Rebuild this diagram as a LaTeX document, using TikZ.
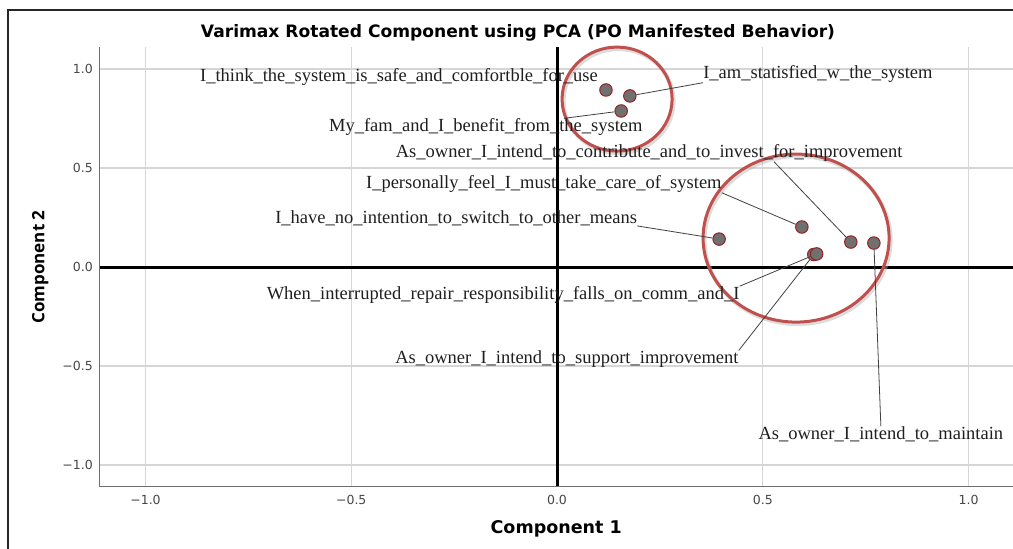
\documentclass[tikz,border=0pt]{standalone}
\usepackage{fontspec}
\setmainfont{Liberation Serif}
\newfontfamily\plotsans{DejaVu Sans}
\newfontfamily\sidesans{Open Sans}
\usetikzlibrary{calc}

\definecolor{ringred}{RGB}{192,80,77}
\definecolor{dotgray}{RGB}{112,112,112}
\definecolor{dotrim}{RGB}{150,35,35}
\definecolor{gridgray}{RGB}{214,214,214}
\definecolor{axisgray}{RGB}{110,110,110}

\begin{document}
\begin{tikzpicture}[
    x=411.5pt, y=198pt,
    gridline/.style={draw=gridgray, line width=1.2pt},
    zeroline/.style={draw=black, line width=3pt},
    axisline/.style={draw=axisgray, line width=1pt},
    ticklabel/.style={font=\plotsans\fontsize{12.5}{14}\selectfont, text=black!72, inner sep=0pt},
    axistitle/.style={font=\plotsans\bfseries\fontsize{17.5}{20}\selectfont, inner sep=0pt},
    plottitle/.style={font=\plotsans\bfseries\fontsize{17.1}{20}\selectfont, inner sep=0pt},
    sidetitle/.style={font=\sidesans\bfseries\fontsize{17}{20}\selectfont, inner sep=0pt},
    item/.style={circle, draw=dotrim, fill=dotgray, line width=1pt, minimum size=12.5pt, inner sep=0pt},
    itemlabel/.style={font=\fontsize{18.5}{20}\selectfont, inner sep=0pt, text=black!88},
    leader/.style={draw=black!75, line width=0.8pt},
    ring/.style={draw=ringred, line width=3pt},
    ringshadow/.style={draw=black!30, line width=4pt, opacity=0.45}
]
\useasboundingbox (-1.3536,-1.4242) rectangle (1.1081,1.3485);
\draw[line width=1.3pt, draw=black!85] (-1.334,-1.4242) |- (1.1081,1.298);

\draw[gridline] (-1,-1.111) -- (-1,1.111);
\draw[gridline] (-0.5,-1.111) -- (-0.5,1.111);
\draw[gridline] (0.5,-1.111) -- (0.5,1.111);
\draw[gridline] (1,-1.111) -- (1,1.111);
\draw[gridline] (-1.111,1) -- (1.111,1);
\draw[gridline] (-1.111,0.5) -- (1.111,0.5);
\draw[gridline] (-1.111,-0.5) -- (1.111,-0.5);
\draw[gridline] (-1.111,-1) -- (1.111,-1);
\draw[zeroline] (0,-1.111) -- (0,1.111);
\draw[zeroline] (-1.111,0) -- (1.111,0);
\draw[axisline] (-1.1106,1.111) -- (-1.1106,-1.111) -- (1.111,-1.111);

\node[ticklabel, anchor=east] (YTickA) at (-1.1276,1) {1.0};
\node[ticklabel, anchor=east] (YTickB) at (-1.1276,0.5) {0.5};
\node[ticklabel, anchor=east] (YTickC) at (-1.1276,0) {0.0};
\node[ticklabel, anchor=east] (YTickD) at (-1.1276,-0.5) {−0.5};
\node[ticklabel, anchor=east] (YTickE) at (-1.1276,-1) {−1.0};
\node[ticklabel] (XTickA) at (-1,-1.177) {−1.0};
\node[ticklabel] (XTickB) at (-0.5,-1.177) {−0.5};
\node[ticklabel] (XTickC) at (0,-1.177) {0.0};
\node[ticklabel] (XTickD) at (0.5,-1.177) {0.5};
\node[ticklabel] (XTickE) at (1,-1.177) {1.0};

\node[axistitle] (XTitle) at (-0.002,-1.323) {Component 1};
\node[sidetitle, rotate=90] (YTitle) at (-1.256,0) {Component 2};
\node[plottitle] (PlotTitle) at (-0.0948,1.1818) {Varimax Rotated Component using PCA (PO Manifested Behavior)};

\draw[ringshadow] ([shift={(1.5pt,-2pt)}]0.146,0.848) ellipse [x radius=55pt, y radius=52pt];
\draw[ringshadow] ([shift={(1.5pt,-2pt)}]0.581,0.146) ellipse [x radius=93pt, y radius=84pt];
\draw[ring] (0.146,0.848) ellipse [x radius=55pt, y radius=52pt];
\draw[ring] (0.581,0.146) ellipse [x radius=93pt, y radius=84pt];

\node[itemlabel] (ThinkLabel) at (-0.384,0.960) {I\_think\_the\_system\_is\_safe\_and\_comfortble\_for\_use};
\node[itemlabel] (SatisfiedLabel) at (0.634,0.975) {I\_am\_statisfied\_w\_the\_system};
\node[itemlabel] (BenefitLabel) at (-0.173,0.707) {My\_fam\_and\_I\_benefit\_from\_the\_system};
\node[itemlabel] (ContributeLabel) at (0.224,0.576) {As\_owner\_I\_intend\_to\_contribute\_and\_to\_invest\_for\_improvement};
\node[itemlabel] (CareForLabel) at (-0.032,0.419) {I\_personally\_feel\_I\_must\_take\_care\_of\_system};
\node[itemlabel] (NoSwitchLabel) at (-0.245,0.247) {I\_have\_no\_intention\_to\_switch\_to\_other\_means};
\node[itemlabel] (RepairLabel) at (-0.131,-0.141) {When\_interrupted\_repair\_responsibility\_falls\_on\_comm\_and\_I};
\node[itemlabel] (SupportLabel) at (0.024,-0.465) {As\_owner\_I\_intend\_to\_support\_improvement};
\node[itemlabel] (MaintainLabel) at (0.787,-0.843) {As\_owner\_I\_intend\_to\_maintain};

\node[item] (Think) at (0.119,0.894) {};
\node[item] (Satisfied) at (0.177,0.864) {};
\node[item] (Benefit) at (0.156,0.788) {};
\node[item] (CareFor) at (0.595,0.202) {};
\node[item] (Contribute) at (0.714,0.126) {};
\node[item] (Maintain) at (0.770,0.121) {};
\node[item] (NoSwitch) at (0.394,0.141) {};
\node[item] (Support) at (0.624,0.063) {};
\node[item] (Repair) at (0.631,0.066) {};

\draw[leader] (SatisfiedLabel.south west) -- (Satisfied);
\draw[leader] ($(BenefitLabel.north west)!0.75!(BenefitLabel.north east)$) -- (Benefit);
\draw[leader] ($(ContributeLabel.south west)!0.746!(ContributeLabel.south east)$) -- (Contribute);
\draw[leader] (CareForLabel.south east) -- (CareFor);
\draw[leader] (NoSwitchLabel.south east) -- (NoSwitch);
\draw[leader] (RepairLabel.north east) -- (Repair);
\draw[leader] (SupportLabel.north east) -- (Support);
\draw[leader] (MaintainLabel.north) -- (Maintain);
\end{tikzpicture}
\end{document}
